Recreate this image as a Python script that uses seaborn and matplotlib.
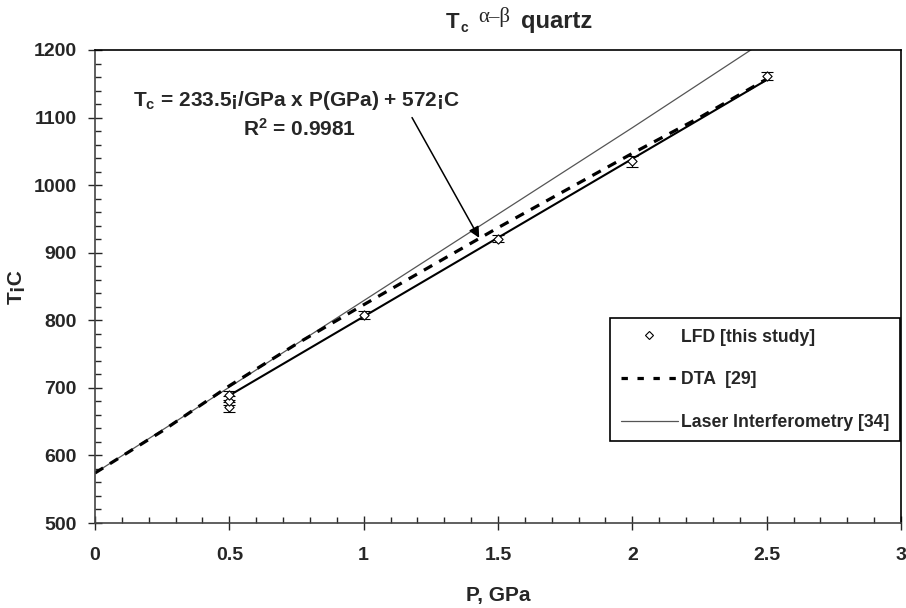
import matplotlib
matplotlib.use("Agg")
import matplotlib.pyplot as plt
from matplotlib.ticker import MultipleLocator
from matplotlib.lines import Line2D
import seaborn as sns
import pandas as pd

# LFD measurements (this study) with error bars
lfd_p = [0.5, 0.5, 0.5, 1.0, 1.5, 2.0, 2.5]
lfd_t = [672, 681, 689, 808, 921, 1035, 1162]
lfd_err = [7, 7, 7, 6, 5, 8, 6]

# Linear fit: Tc = 233.5 * P + 572
fit_slope = 233.5
fit_icept = 572.0
fit_p = [0.5, 2.5]

# DTA [29]
dta_p = [0.0, 0.25, 0.5, 0.75, 1.0, 1.25, 1.5, 1.75, 2.0, 2.25, 2.5]
dta_t = [574, 636, 703, 765, 823, 880, 937, 992, 1047, 1100, 1157]

# Laser interferometry [34]
laser_p = [0.0, 0.5, 1.0, 1.5, 2.0, 2.46]
laser_t = [574, 701, 829, 957, 1085, 1205]

sns.set_style("ticks")
plt.rcParams["font.family"] = ["Liberation Sans", "DejaVu Sans"]
plt.rcParams["mathtext.fontset"] = "custom"
plt.rcParams["mathtext.rm"] = "Liberation Sans"
plt.rcParams["mathtext.bf"] = "Liberation Sans:bold"
plt.rcParams["mathtext.it"] = "Liberation Sans:italic"

fig = plt.figure(figsize=(9.06, 6.08), dpi=100)
ax = fig.add_axes([95 / 906, 1 - 523 / 608, (901 - 95) / 906, (523 - 50) / 608])

# Literature curves
sns.lineplot(x=laser_p, y=laser_t, ax=ax, color="#555555", lw=0.9,
             label="_nolegend_")
sns.lineplot(x=dta_p, y=dta_t, ax=ax, color="black", lw=2.3,
             linestyle=(0, (3, 2.5)), label="_nolegend_")

# Fit line through LFD data
fit_t = [fit_slope * p + fit_icept for p in fit_p]
sns.lineplot(x=fit_p, y=fit_t, ax=ax, color="black", lw=1.5, label="_nolegend_")

# LFD points with error bars
ax.errorbar(lfd_p, lfd_t, yerr=lfd_err, fmt="none", ecolor="black",
            elinewidth=0.8, capsize=4, capthick=0.8, zorder=3)
sns.scatterplot(data=pd.DataFrame({"P": lfd_p, "T": lfd_t}), x="P", y="T",
                ax=ax, marker="D", s=22, facecolor="white",
                edgecolor="black", linewidth=0.8, zorder=4, legend=False)

ax.set_xlim(0, 3)
ax.set_ylim(500, 1200)
ax.xaxis.set_major_locator(MultipleLocator(0.5))
ax.xaxis.set_minor_locator(MultipleLocator(0.1))
ax.yaxis.set_major_locator(MultipleLocator(100))
ax.yaxis.set_minor_locator(MultipleLocator(20))
ax.set_xticks([0, 0.5, 1, 1.5, 2, 2.5, 3])
ax.set_xticklabels(["0", "0.5", "1", "1.5", "2", "2.5", "3"])
ax.tick_params(which="major", direction="inout", length=10, width=1,
               labelsize=14)
ax.tick_params(which="minor", direction="in", length=4, width=1)
for lab in ax.get_xticklabels() + ax.get_yticklabels():
    lab.set_fontweight("bold")
ax.tick_params(axis="x", which="major", pad=12)
ax.tick_params(axis="y", which="major", pad=8)

for side in ["top", "right", "left", "bottom"]:
    ax.spines[side].set_visible(True)
    ax.spines[side].set_color("black")
    ax.spines[side].set_linewidth(1.2)
ax.spines["left"].set_color("#444444")
ax.spines["bottom"].set_color("#444444")

ax.set_xlabel("P, GPa", fontsize=15, fontweight="bold", labelpad=16)
ax.set_ylabel("T¡C", fontsize=15, fontweight="bold", labelpad=6)

# Title: T_c alpha-beta quartz
fig.text(446 / 906, 1 - 28 / 608, "T", fontsize=16, fontweight="bold",
         ha="left", va="baseline")
fig.text(460 / 906, 1 - 32 / 608, "c", fontsize=10, fontweight="bold",
         ha="left", va="baseline")
fig.text(478 / 906, 1 - 22 / 608, "α–β", fontsize=15,
         family=["Liberation Serif", "DejaVu Serif"], ha="left", va="baseline")
fig.text(521 / 906, 1 - 28 / 608, "quartz", fontsize=17, fontweight="bold",
         ha="left", va="baseline")

# Fit equation and arrow
ax.text(0.75, 1126, r"T$_{\mathbf{c}}$ = 233.5¡/GPa x P(GPa) + 572¡C",
        fontsize=15, fontweight="bold", ha="center", va="center")
ax.text(0.76, 1084, r"R$^{\mathbf{2}}$ = 0.9981",
        fontsize=15, fontweight="bold", ha="center", va="center")
ax.annotate("", xy=(1.43, 922), xytext=(1.18, 1100),
            arrowprops=dict(arrowstyle="-|>", color="black", lw=1.1,
                            mutation_scale=16, shrinkA=0, shrinkB=0))

# Legend
handles = [
    Line2D([], [], marker="D", markersize=4, markerfacecolor="white",
           markeredgecolor="black", markeredgewidth=0.8, linestyle="none"),
    Line2D([], [], color="black", lw=2.3, linestyle=(0, (2, 3))),
    Line2D([], [], color="#555555", lw=0.9),
]
labels = ["LFD [this study]", "DTA  [29]", "Laser Interferometry [34]"]
leg = ax.legend(handles, labels, loc="upper right",
                bbox_to_anchor=(900 / 906, 1 - 318 / 608),
                bbox_transform=fig.transFigure, frameon=True, fancybox=False,
                shadow=False, edgecolor="black", framealpha=1,
                prop={"weight": "bold", "size": 12.7}, labelspacing=1.45,
                handlelength=3.2, handletextpad=0.2, borderpad=0.6,
                borderaxespad=0)
leg.get_frame().set_linewidth(1.2)

fig.savefig("out.png", dpi=100)
